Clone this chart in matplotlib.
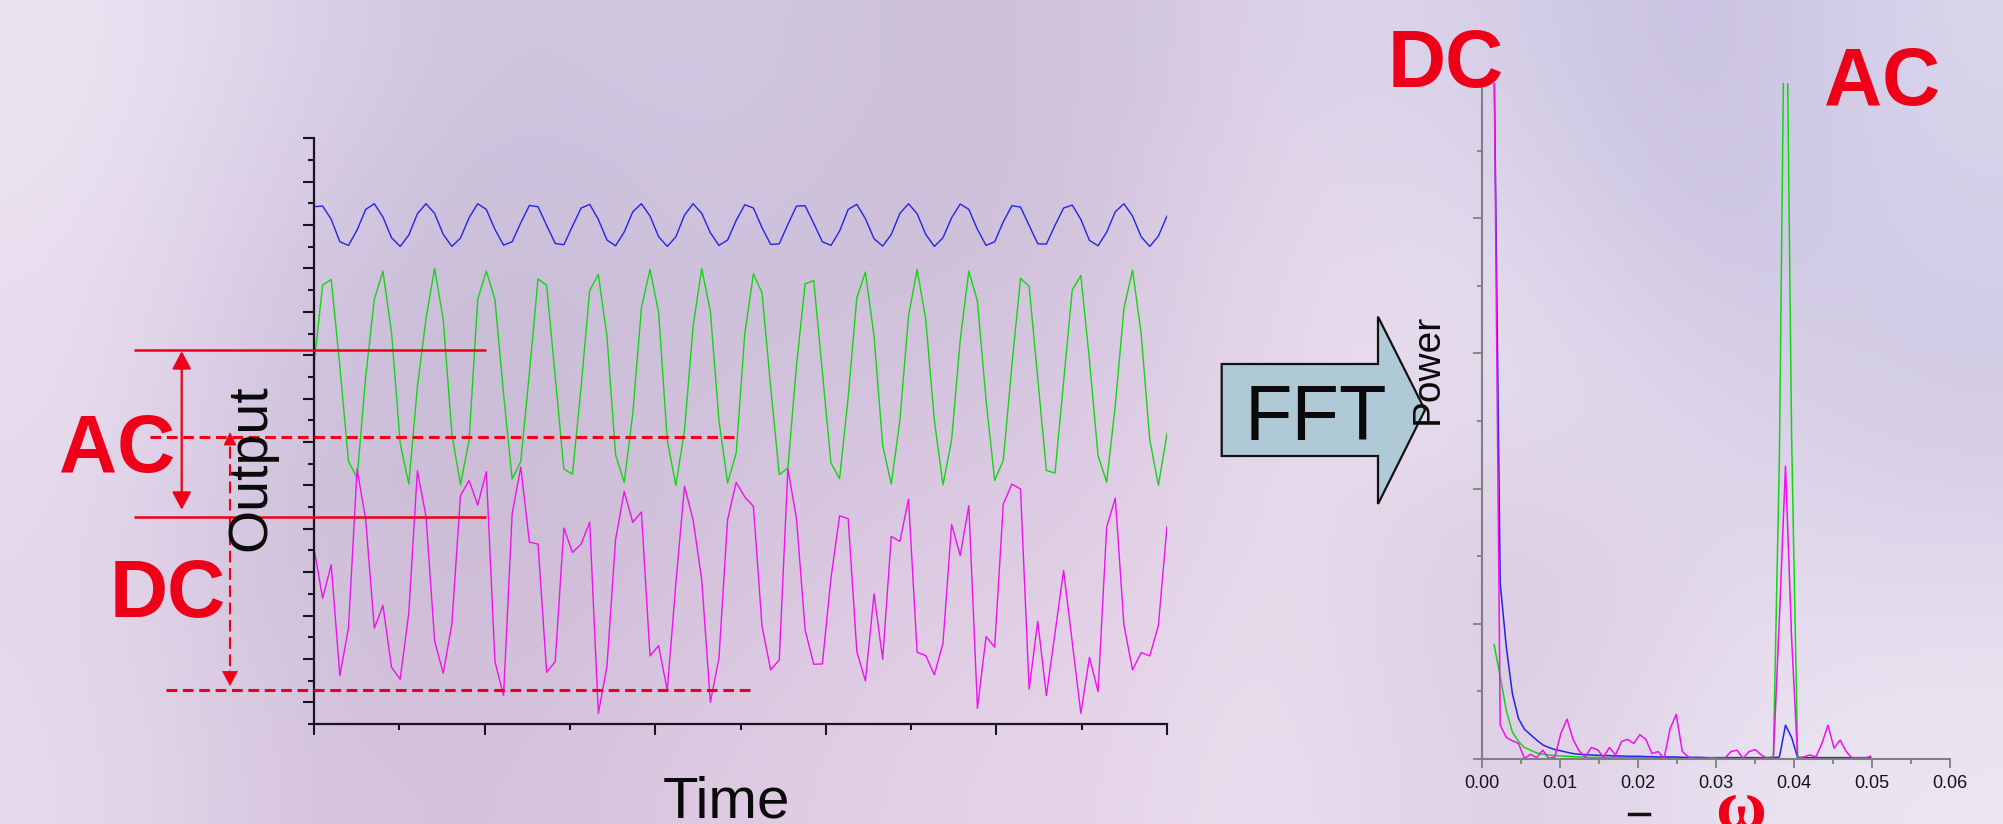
import numpy as np
import matplotlib
matplotlib.use("Agg")
import matplotlib.pyplot as plt
from matplotlib.patches import Polygon, FancyArrowPatch
from matplotlib.lines import Line2D
from matplotlib.ticker import FixedLocator, MultipleLocator, FormatStrFormatter

plt.rcParams['font.family'] = ['Liberation Sans', 'DejaVu Sans']

# ---------------- data: time domain (output units, axis 0..1755) ----------------
t = np.arange(100)
blue_out = [1550, 1552, 1512, 1445, 1434, 1480, 1542, 1559, 1519, 1457,
            1431, 1465, 1529, 1559, 1530, 1467, 1431, 1456, 1517, 1559,
            1542, 1482, 1435, 1445, 1502, 1554, 1550, 1494, 1440, 1436,
            1492, 1546, 1557, 1512, 1450, 1433, 1474, 1535, 1559, 1522,
            1460, 1431, 1460, 1525, 1559, 1530, 1472, 1434, 1450, 1509,
            1556, 1546, 1487, 1437, 1439, 1497, 1552, 1553, 1500, 1445,
            1434, 1477, 1542, 1557, 1514, 1454, 1432, 1467, 1530, 1559,
            1529, 1467, 1431, 1457, 1517, 1558, 1542, 1482, 1434, 1445,
            1505, 1553, 1549, 1494, 1439, 1438, 1494, 1546, 1555, 1512,
            1449, 1433, 1474, 1535, 1559, 1522, 1460, 1431, 1462, 1522]
green_out = [1077, 1315, 1332, 1072, 787, 737, 1040, 1272, 1357, 1172,
             842, 719, 1010, 1215, 1365, 1212, 870, 717, 850, 1272,
             1357, 1272, 990, 734, 787, 1052, 1334, 1315, 1040, 764,
             749, 1010, 1299, 1347, 1162, 807, 724, 930, 1247, 1362,
             1232, 850, 715, 880, 1192, 1365, 1237, 910, 722, 812,
             1170, 1349, 1292, 1010, 747, 767, 1075, 1319, 1329, 1055,
             782, 735, 980, 1277, 1354, 1162, 835, 719, 910, 1222,
             1362, 1212, 910, 717, 850, 1150, 1357, 1267, 970, 730,
             790, 1075, 1335, 1312, 1035, 760, 752, 1025, 1300, 1344,
             1090, 804, 725, 955, 1245, 1360, 1170, 852, 715, 870]
magenta_out = [527, 377, 477, 145, 287, 764, 612, 287, 355, 170,
               134, 332, 759, 622, 249, 152, 299, 684, 730, 656,
               756, 187, 85, 630, 770, 545, 539, 155, 187, 587,
               514, 539, 605, 32, 172, 552, 697, 604, 635, 204,
               235, 100, 422, 712, 612, 432, 65, 197, 612, 724,
               680, 652, 292, 162, 192, 765, 615, 282, 179, 180,
               437, 624, 615, 217, 129, 390, 194, 562, 547, 674,
               215, 205, 147, 242, 598, 505, 654, 47, 262, 230,
               659, 719, 704, 104, 308, 85, 272, 460, 246, 32,
               200, 97, 590, 677, 297, 162, 214, 204, 295, 592]

# annotation levels (AC band and DC band) in output units
ac_levels = [1120, 620]
dc_levels = [860, 102]

# ---------------- data: spectrum ----------------
freq = np.arange(2, 65) / 1285.0
spec_magenta = [10.3, 0.5, 0.32, 0.27, 0.23, 0.01, 0.07, 0.02, 0.13, 0.01,
                0.03, 0.38, 0.59, 0.29, 0.12, 0.03, 0.17, 0.14, 0.03, 0.17,
                0.06, 0.26, 0.29, 0.23, 0.36, 0.29, 0.08, 0.11, 0.01, 0.45,
                0.66, 0.11, 0.03, 0.01, 0.01, 0.01, 0.02, 0.01, 0.01, 0.11,
                0.13, 0.01, 0.11, 0.14, 0.06, 0.01, 0.01, 2.1, 4.33, 1.8,
                0.01, 0.03, 0.06, 0.03, 0.23, 0.5, 0.16, 0.28, 0.11, 0.01,
                0.02, 0.01, 0.04]
spec_blue = [10.3, 2.6, 1.66, 0.97, 0.6, 0.44, 0.36, 0.28, 0.21, 0.17,
             0.14, 0.12, 0.1, 0.08, 0.07, 0.065, 0.06, 0.055, 0.05, 0.05,
             0.045, 0.045, 0.04, 0.04, 0.04, 0.035, 0.035, 0.03, 0.03, 0.03,
             0.03, 0.025, 0.025, 0.025, 0.025, 0.02, 0.02, 0.02, 0.02, 0.02,
             0.02, 0.02, 0.02, 0.02, 0.02, 0.02, 0.02, 0.03, 0.5, 0.32,
             0.02, 0.02, 0.02, 0.02, 0.02, 0.02, 0.02, 0.02, 0.02, 0.02,
             0.02, 0.02, 0.02]
spec_green = [1.69, 1.22, 0.72, 0.4, 0.26, 0.17, 0.13, 0.09, 0.07, 0.06,
              0.05, 0.045, 0.04, 0.035, 0.03, 0.028, 0.025, 0.023, 0.02, 0.02,
              0.02, 0.02, 0.018, 0.018, 0.016, 0.016, 0.015, 0.015, 0.015, 0.015,
              0.015, 0.015, 0.015, 0.015, 0.015, 0.015, 0.015, 0.015, 0.015, 0.015,
              0.015, 0.015, 0.015, 0.015, 0.015, 0.02, 0.03, 4.5, 13.0, 4.8,
              0.03, 0.02, 0.015, 0.015, 0.015, 0.015, 0.015, 0.015, 0.015, 0.015,
              0.015, 0.015, 0.015]
freq_ticks = [0.00, 0.01, 0.02, 0.03, 0.04, 0.05, 0.06]

# ---------------- styling ----------------
W, H = 2003, 824
RED = '#ee0018'
BLUE = '#2424e8'
GREEN = '#12d612'
MAGENTA = '#f010f0'
DARK = '#1a1222'


def fx(x):
    return x / W


def fy(y):
    return 1 - y / H


fig = plt.figure(figsize=(W / 100, H / 100), dpi=100)

# background (slide backdrop)
bg = np.array([
    [(236, 228, 242), (220, 210, 232), (204, 194, 220), (212, 202, 228), (204, 192, 218),
     (206, 194, 222), (224, 214, 234), (214, 208, 232), (198, 190, 222), (218, 212, 236)],
    [(234, 224, 240), (210, 198, 224), (200, 188, 216), (206, 194, 220), (205, 190, 216),
     (212, 196, 222), (232, 218, 236), (226, 220, 238), (204, 196, 224), (212, 206, 232)],
    [(232, 220, 238), (206, 192, 220), (203, 188, 214), (210, 194, 220), (214, 196, 222),
     (218, 200, 226), (234, 220, 238), (230, 222, 238), (222, 214, 234), (210, 202, 228)],
    [(228, 216, 236), (206, 190, 216), (206, 188, 214), (212, 194, 220), (222, 204, 228),
     (224, 206, 228), (236, 222, 238), (214, 196, 220), (228, 218, 236), (226, 218, 236)],
    [(230, 218, 236), (214, 196, 222), (212, 192, 218), (222, 202, 226), (226, 208, 230),
     (230, 212, 232), (236, 224, 240), (220, 204, 226), (232, 224, 240), (236, 230, 242)],
]) / 255.0
bg_ax = fig.add_axes([0, 0, 1, 1], zorder=-10)
bg_ax.imshow(bg, extent=(0, W, H, 0), aspect='auto', interpolation='bicubic')
bg_ax.set_axis_off()

# ---------------- left: time domain ----------------
ax = fig.add_axes([fx(314), fy(724), fx(1167) - fx(314), fy(138.3) - fy(724)])
ax.patch.set_alpha(0)
ax.set_xlim(0, 99)
ax.set_ylim(0, 1755)
for s in ['top', 'right']:
    ax.spines[s].set_visible(False)
for s in ['left', 'bottom']:
    ax.spines[s].set_linewidth(1.6)
    ax.spines[s].set_color(DARK)
ax.xaxis.set_major_locator(FixedLocator(np.linspace(0, 99, 6)))
ax.xaxis.set_minor_locator(FixedLocator(np.linspace(0, 99, 11)))
ax.yaxis.set_major_locator(FixedLocator(np.arange(65, 1756, 130)))
ax.yaxis.set_minor_locator(FixedLocator(np.arange(0, 1756, 130)))
ax.tick_params(which='major', length=8, width=1.5, color=DARK, direction='out',
               labelleft=False, labelbottom=False)
ax.tick_params(which='minor', length=4, width=1.5, color=DARK, direction='out')

ax.plot(t, blue_out, color=BLUE, lw=1.0)
ax.plot(t, green_out, color=GREEN, lw=1.0)
ax.plot(t, magenta_out, color=MAGENTA, lw=1.0)

# red annotations (data coordinates of the left axes)
px = 8.616  # pixels per sample


def xi(xpix):
    return (xpix - 314) / px


for lvl in ac_levels:
    ax.plot([xi(134), xi(486)], [lvl, lvl], color=RED, lw=1.8, clip_on=False,
            solid_capstyle='butt', zorder=5)
ax.plot([xi(150), xi(739)], [dc_levels[0]] * 2, color=RED, lw=2.2, clip_on=False,
        ls=(0, (3.5, 1.86)), zorder=5)
ax.plot([xi(166), xi(755)], [dc_levels[1]] * 2, color=RED, lw=2.2, clip_on=False,
        ls=(0, (3.5, 1.86)), zorder=5)

xa = xi(181.7)
arr = FancyArrowPatch((xa, ac_levels[0] - 3), (xa, ac_levels[1] + 22),
                      arrowstyle='<|-|>,head_length=1.08,head_width=0.58',
                      mutation_scale=10, lw=1.6, color=RED, shrinkA=0, shrinkB=0,
                      transform=ax.transData, clip_on=False, zorder=6)
ax.add_patch(arr)

xd = xi(230)
ax.plot([xd, xd], [dc_levels[0] - 30, dc_levels[1] + 45], color=RED, lw=1.5,
        ls=(0, (5.6, 2.7)), clip_on=False, zorder=5)
head_top = FancyArrowPatch((xd, dc_levels[0] - 30), (xd, dc_levels[0] + 14),
                           arrowstyle='-|>,head_length=0.86,head_width=0.43',
                           mutation_scale=10, lw=0.5, color=RED, shrinkA=0, shrinkB=0,
                           transform=ax.transData, clip_on=False, zorder=6)
head_bot = FancyArrowPatch((xd, dc_levels[1] + 60), (xd, dc_levels[1] + 12),
                           arrowstyle='-|>,head_length=1.0,head_width=0.54',
                           mutation_scale=10, lw=0.5, color=RED, shrinkA=0, shrinkB=0,
                           transform=ax.transData, clip_on=False, zorder=6)
ax.add_patch(head_top)
ax.add_patch(head_bot)

# ---------------- right: spectrum ----------------
ax2 = fig.add_axes([fx(1482), fy(759), fx(1950) - fx(1482), fy(83) - fy(759)])
ax2.patch.set_alpha(0)
ax2.set_xlim(0, 0.06)
ax2.set_ylim(0, 10)
for s in ['top', 'right']:
    ax2.spines[s].set_visible(False)
for s in ['left', 'bottom']:
    ax2.spines[s].set_linewidth(1.5)
    ax2.spines[s].set_color('#808080')
ax2.xaxis.set_major_locator(FixedLocator(freq_ticks))
ax2.xaxis.set_minor_locator(MultipleLocator(0.005))
ax2.xaxis.set_major_formatter(FormatStrFormatter('%.2f'))
ax2.yaxis.set_major_locator(MultipleLocator(2))
ax2.yaxis.set_minor_locator(MultipleLocator(1))
ax2.tick_params(which='major', length=6.5, width=1.3, color='#808080', direction='out',
                labelleft=False, labelsize=13, labelcolor='#141414', pad=5)
ax2.tick_params(which='minor', length=3.5, width=1.3, color='#808080', direction='out')

ax2.plot(freq, spec_green, color=GREEN, lw=1.1)
ax2.plot(freq, spec_blue, color=BLUE, lw=1.1)
ax2.plot(freq, spec_magenta, color=MAGENTA, lw=1.1)

# ---------------- FFT arrow ----------------
arrow_pts = [(1221.7, 364), (1378, 364), (1378, 316.7), (1425, 410),
             (1378, 504), (1378, 456), (1221.7, 456)]
fft_arrow = Polygon([(fx(x), fy(y)) for x, y in arrow_pts], closed=True,
                    transform=fig.transFigure, facecolor='#afc9d7',
                    edgecolor='#111111', lw=1.6, zorder=3)
fig.add_artist(fft_arrow)
fig.text(fx(1245), fy(440), 'FFT', fontsize=56, color='#0a0a0a',
         ha='left', va='baseline', zorder=4)

# ---------------- texts ----------------
big = dict(fontsize=58, fontweight='bold', color=RED, ha='left', va='baseline', zorder=7)
fig.text(fx(59), fy(472), 'AC', **big)
fig.text(fx(110), fy(617), 'DC', **big)
fig.text(fx(1388), fy(87), 'DC', **big)
fig.text(fx(1824), fy(105), 'AC', **big)

fig.text(fx(251), fy(468), 'Output', fontsize=40, rotation=90, color='#0a0a0a',
         ha='center', va='center', zorder=7)
fig.text(fx(663), fy(817), 'Time', fontsize=42, color='#0a0a0a',
         ha='left', va='baseline')
fig.text(fx(1428), fy(369), 'Power', fontsize=28, rotation=90, color='#0a0a0a',
         ha='center', va='center', zorder=7)
fig.text(fx(1741), fy(827), 'ω', fontsize=50, fontweight='bold', color=RED,
         family=['Liberation Serif', 'DejaVu Serif'], ha='center', va='baseline')
fig.add_artist(Line2D([fx(1629), fx(1649)], [fy(813.5), fy(813.5)], lw=2.5,
                      color='#111111', transform=fig.transFigure))

fig.savefig('out.png', dpi=100)
